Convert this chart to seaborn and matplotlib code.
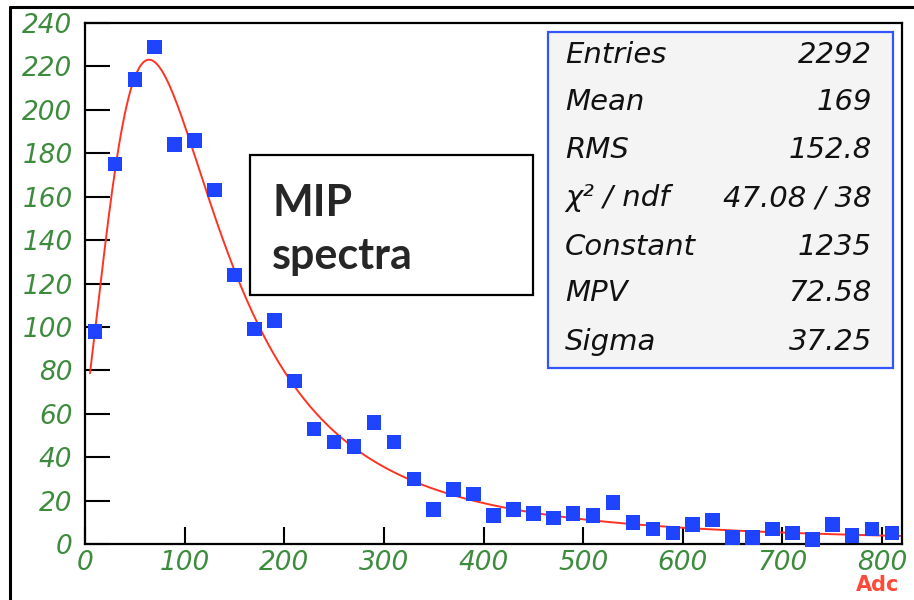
import numpy as np
import pandas as pd
import matplotlib
matplotlib.use("Agg")
import matplotlib.pyplot as plt
from matplotlib.patches import Rectangle
from matplotlib.lines import Line2D
from matplotlib.ticker import MultipleLocator
import seaborn as sns

# ---- histogram content (ADC bin centres and counts) ----
adc_centres = [10, 30, 50, 70, 90, 110, 130, 150, 170, 190,
               210, 230, 250, 270, 290, 310, 330, 350, 370, 390,
               410, 430, 450, 470, 490, 510, 530, 550, 570, 590,
               610, 630, 650, 670, 690, 710, 730, 750, 770, 790, 810]
counts = [98, 175, 214, 229, 184, 186, 163, 124, 99, 103,
          75, 53, 47, 45, 56, 47, 30, 16, 25, 23,
          13, 16, 14, 12, 14, 13, 19, 10, 7, 5,
          9, 11, 3, 3, 7, 5, 2, 9, 4, 7, 5]

# ---- statistics / fit results ----
entries = 2292
mean = 169
rms = 152.8
chi2 = 47.08
ndf = 38
fit_constant = 1235
fit_mpv = 72.58
fit_sigma = 37.25
fit_range = (5, 820)

x_ticks = [0, 100, 200, 300, 400, 500, 600, 700, 800]
y_ticks = [0, 20, 40, 60, 80, 100, 120, 140, 160, 180, 200, 220, 240]


def landau(lam):
    """Landau density phi(lambda) via its integral representation."""
    t = np.linspace(1e-9, 60.0, 120001)
    lam = np.atleast_1d(lam)[:, None]
    integrand = np.exp(-t * np.log(t) - lam * t) * np.sin(np.pi * t)
    return np.trapezoid(integrand, t, axis=1) / np.pi


xf = np.linspace(fit_range[0], fit_range[1], 400)
yf = fit_constant * landau((xf - fit_mpv) / fit_sigma)

hist_df = pd.DataFrame({"adc": adc_centres, "count": counts})
fit_df = pd.DataFrame({"adc": xf, "fit": yf})

sns.set_style("white")
plt.rcParams["font.family"] = ["DejaVu Sans"]

W, H = 914, 600
fig = plt.figure(figsize=(W / 100, H / 100), dpi=100)
fig.patch.set_facecolor("white")


def fx(px):
    return px / W


def fy(py):
    return 1 - py / H


ax = fig.add_axes([fx(85), fy(544), fx(902) - fx(85), fy(23) - fy(544)])

green = "#3d8b3d"
blue = "#1f44ff"
red = "#ff3322"

sns.lineplot(data=fit_df, x="adc", y="fit", ax=ax, color=red, lw=1.4,
             zorder=2)
sns.scatterplot(data=hist_df, x="adc", y="count", ax=ax, marker="s",
                s=110, color=blue, edgecolor="none", zorder=3, clip_on=False)

ax.set_xlim(0, 820)
ax.set_ylim(0, 240)
ax.set_xlabel("")
ax.set_ylabel("")
ax.set_xticks(x_ticks)
ax.set_yticks(y_ticks)
ax.set_xticklabels([str(v) for v in x_ticks])
ax.set_yticklabels([str(v) for v in y_ticks])
ax.xaxis.set_minor_locator(MultipleLocator(20))
ax.yaxis.set_minor_locator(MultipleLocator(5))

ax.tick_params(axis="both", which="both", direction="in", color="black",
               width=1.5, labelcolor=green, labelsize=19)
ax.tick_params(axis="y", which="major", length=18, pad=9)
ax.tick_params(axis="y", which="minor", length=10.5)
ax.tick_params(axis="x", which="major", length=12, pad=4)
ax.tick_params(axis="x", which="minor", length=6.5)
ax.tick_params(left=True, bottom=True, right=False, top=False)
for lab in ax.get_xticklabels() + ax.get_yticklabels():
    lab.set_fontstyle("oblique")
for sp in ax.spines.values():
    sp.set_visible(True)
    sp.set_color("black")
    sp.set_linewidth(1.6)

# axis title
fig.text(fx(899), fy(585), "Adc", color="#ff4a3a", fontsize=15,
         fontweight="bold", ha="right", va="center")

# statistics box
fig.add_artist(Rectangle((fx(548), fy(368)), fx(893) - fx(548),
                         fy(32) - fy(368), transform=fig.transFigure,
                         facecolor="#f4f4f4", edgecolor="#3355ff",
                         lw=1.6, zorder=5))
stat_names = ["Entries", "Mean", "RMS", "χ² / ndf", "Constant", "MPV", "Sigma"]
stat_values = [f"{entries}", f"{mean}", f"{rms}", f"{chi2:.2f} / {ndf}",
               f"{fit_constant}", f"{fit_mpv:.2f}", f"{fit_sigma:.2f}"]
row_y = [55, 102, 150, 198, 247, 293, 342]
for name, val, ry in zip(stat_names, stat_values, row_y):
    fig.text(fx(565), fy(ry), name, fontsize=21, fontstyle="oblique",
             color="#111111", ha="left", va="center", zorder=6)
    fig.text(fx(872), fy(ry), val, fontsize=21, fontstyle="oblique",
             color="#111111", ha="right", va="center", zorder=6)

# annotation box
fig.add_artist(Rectangle((fx(250), fy(295)), fx(533) - fx(250),
                         fy(155) - fy(295), transform=fig.transFigure,
                         facecolor="white", edgecolor="black", lw=1.6,
                         zorder=5))
fig.text(fx(272), fy(216), "MIP", fontsize=31, fontweight="bold",
         family="Lato", ha="left", va="baseline", zorder=6)
fig.text(fx(272), fy(269), "spectra", fontsize=31, fontweight="bold",
         family="Lato", ha="left", va="baseline", zorder=6)

# outer frame
fig.add_artist(Line2D([fx(10), fx(10)], [fy(7), fy(600)],
                      transform=fig.transFigure, color="black", lw=2.2))
fig.add_artist(Line2D([fx(10), fx(914)], [fy(7), fy(7)],
                      transform=fig.transFigure, color="black", lw=2.2))

fig.savefig("out.png", dpi=100)
